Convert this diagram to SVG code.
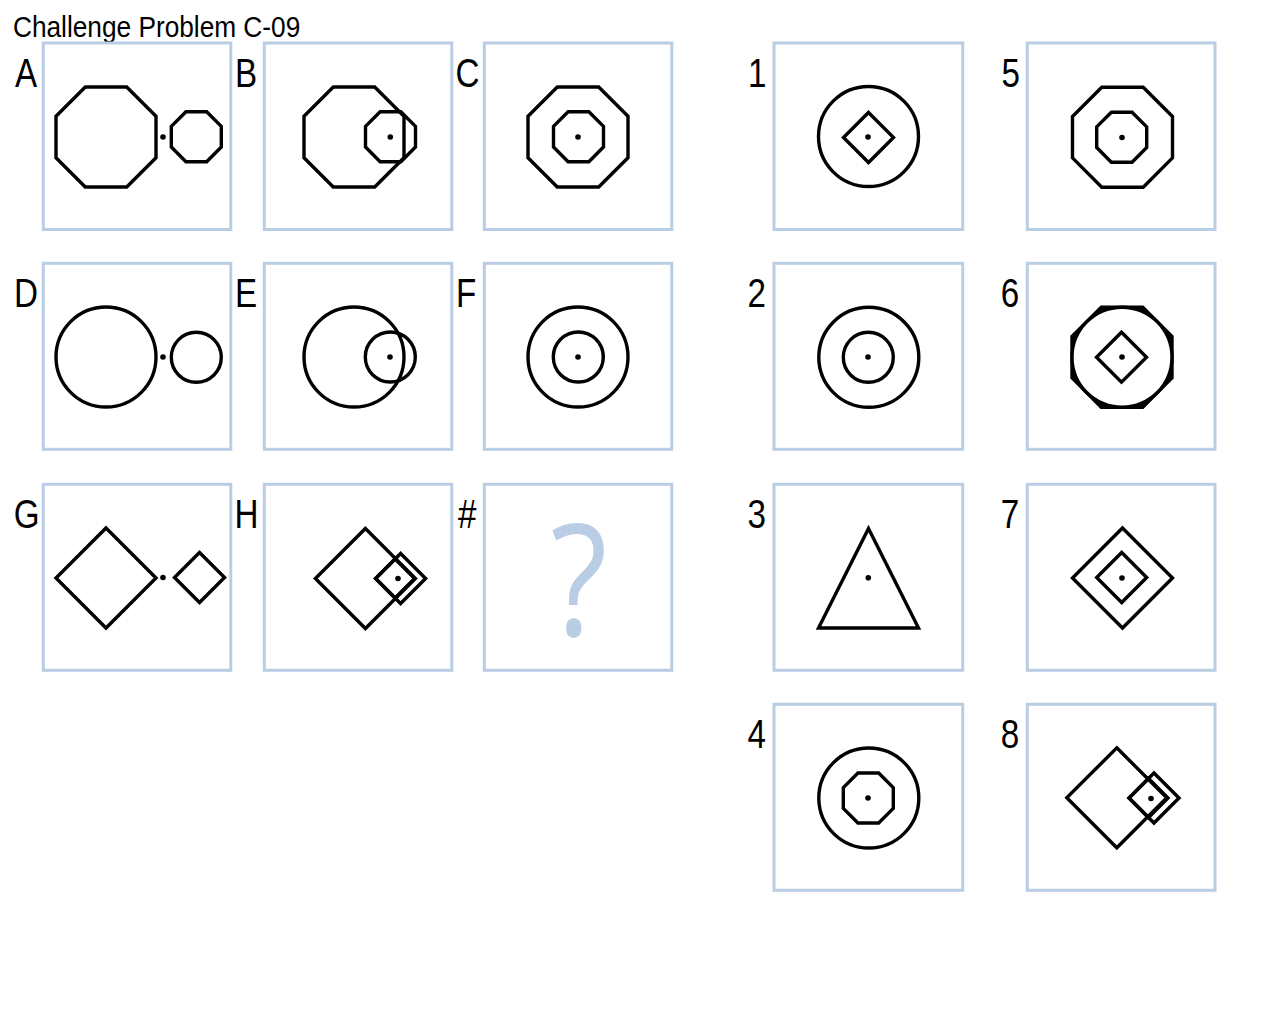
<svg xmlns="http://www.w3.org/2000/svg" width="1280" height="1024" viewBox="0 0 1280 1024">
<style>
.bg{fill:#fff}
.box{fill:#fff;stroke:#b9cde4;stroke-width:3}
.s{fill:none;stroke:#000;stroke-width:3.4;stroke-linejoin:miter}
.sf{fill:#000;stroke:#000;stroke-width:3.4;stroke-linejoin:miter}
.sw{fill:#fff;stroke:#000;stroke-width:3.4}
.d{fill:#000}
.lbl{font-family:"Liberation Sans",Arial,sans-serif;font-size:40px;fill:#000}
.ttl{font-family:"Liberation Sans",Arial,sans-serif;font-size:29px;fill:#000}
.q{font-family:"Open Sans","DejaVu Sans",sans-serif;font-size:155px;fill:#b9cde4}
</style>
<defs>
<polygon id="oct50" points="-20.71,-50 20.71,-50 50,-20.71 50,20.71 20.71,50 -20.71,50 -50,20.71 -50,-20.71"/>
<polygon id="oct25" points="-10.36,-25 10.36,-25 25,-10.36 25,10.36 10.36,25 -10.36,25 -25,10.36 -25,-10.36"/>
<polygon id="dia50" points="0,-50 50,0 0,50 -50,0"/>
<polygon id="dia25" points="0,-25 25,0 0,25 -25,0"/>
<polygon id="dia19" points="0,-19.5 19.5,0 0,19.5 -19.5,0"/>
</defs>
<rect class="bg" x="0" y="0" width="1280" height="1024"/>
<text class="ttl" transform="matrix(0.905 0 0 1 13 37)">Challenge Problem C-09</text>

<g id="panel-A">
<rect class="box" x="43.3" y="43" width="187.5" height="186.5"/>
<text class="lbl" transform="matrix(0.83 0 0 1 15 86.5)">A</text>
<use class="s" href="#oct50" x="106" y="137"/>
<use class="s" href="#oct25" x="196.3" y="136.7"/>
<circle class="d" cx="163" cy="137" r="2.8"/>
</g>
<g id="panel-B">
<rect class="box" x="264.3" y="43" width="187.5" height="186.5"/>
<text class="lbl" transform="matrix(0.83 0 0 1 235 86.5)">B</text>
<use class="s" href="#oct50" x="354" y="137"/>
<use class="s" href="#oct25" x="390.5" y="136.7"/>
<circle class="d" cx="390.3" cy="137" r="2.8"/>
</g>
<g id="panel-C">
<rect class="box" x="484.3" y="43" width="187.5" height="186.5"/>
<text class="lbl" transform="matrix(0.83 0 0 1 455.5 86.5)">C</text>
<use class="s" href="#oct50" x="578" y="137"/>
<use class="s" href="#oct25" x="578.5" y="136.7"/>
<circle class="d" cx="578" cy="137" r="2.8"/>
</g>

<g id="panel-D">
<rect class="box" x="43.3" y="263.3" width="187.5" height="186"/>
<text class="lbl" transform="matrix(0.83 0 0 1 14 306.5)">D</text>
<circle class="s" cx="106" cy="357" r="50"/>
<circle class="s" cx="196.3" cy="357.3" r="25"/>
<circle class="d" cx="163" cy="357" r="2.8"/>
</g>
<g id="panel-E">
<rect class="box" x="264.3" y="263.3" width="187.5" height="186"/>
<text class="lbl" transform="matrix(0.83 0 0 1 235 306.5)">E</text>
<circle class="s" cx="354" cy="357" r="50"/>
<circle class="s" cx="390.3" cy="357" r="25"/>
<circle class="d" cx="390" cy="357" r="2.8"/>
</g>
<g id="panel-F">
<rect class="box" x="484.3" y="263.3" width="187.5" height="186"/>
<text class="lbl" transform="matrix(0.83 0 0 1 456 306.5)">F</text>
<circle class="s" cx="578" cy="357" r="50"/>
<circle class="s" cx="578.3" cy="357" r="25"/>
<circle class="d" cx="578" cy="357" r="2.8"/>
</g>

<g id="panel-G">
<rect class="box" x="43.3" y="484.3" width="187.5" height="186"/>
<text class="lbl" transform="matrix(0.83 0 0 1 13.8 527.5)">G</text>
<use class="s" href="#dia50" x="106" y="578"/>
<use class="s" href="#dia25" x="199.5" y="577.5"/>
<circle class="d" cx="163" cy="577.5" r="2.8"/>
</g>
<g id="panel-H">
<rect class="box" x="264.3" y="484.3" width="187.5" height="186"/>
<text class="lbl" transform="matrix(0.83 0 0 1 234.5 527.5)">H</text>
<use class="s" href="#dia50" x="365.4" y="578.5"/>
<use class="s" href="#dia25" x="400.6" y="578.5"/>
<use class="s" href="#dia19" x="395.1" y="578.5"/>
<circle class="d" cx="398" cy="578.5" r="2.8"/>
</g>
<g id="panel-question">
<rect class="box" x="484.3" y="484.3" width="187.5" height="186"/>
<text class="lbl" transform="matrix(0.83 0 0 1 458 527.5)">#</text>
<text class="q" transform="matrix(0.85 0 0 1 579 636)" x="0" y="0" text-anchor="middle">?</text>
</g>

<g id="option-1">
<rect class="box" x="774" y="43" width="188.7" height="186.5"/>
<text class="lbl" transform="matrix(0.83 0 0 1 748 86.5)">1</text>
<circle class="s" cx="868.5" cy="136.5" r="50"/>
<use class="s" href="#dia25" x="868.5" y="137.5"/>
<circle class="d" cx="868" cy="137" r="2.8"/>
</g>
<g id="option-2">
<rect class="box" x="774" y="263.3" width="188.7" height="186"/>
<text class="lbl" transform="matrix(0.83 0 0 1 747.5 306.5)">2</text>
<circle class="s" cx="868.8" cy="357.3" r="50"/>
<circle class="s" cx="868.3" cy="357.3" r="25"/>
<circle class="d" cx="868" cy="357" r="2.8"/>
</g>
<g id="option-3">
<rect class="box" x="774" y="484.3" width="188.7" height="186"/>
<text class="lbl" transform="matrix(0.83 0 0 1 747.5 527.5)">3</text>
<polygon class="s" points="868.5,528.5 818.5,628 918.5,628"/>
<circle class="d" cx="868.3" cy="577.7" r="2.8"/>
</g>
<g id="option-4">
<rect class="box" x="774" y="704.3" width="188.7" height="186"/>
<text class="lbl" transform="matrix(0.83 0 0 1 747.5 747.5)">4</text>
<circle class="s" cx="868.8" cy="798" r="50"/>
<use class="s" href="#oct25" x="868.3" y="798"/>
<circle class="d" cx="868" cy="798" r="2.8"/>
</g>

<g id="option-5">
<rect class="box" x="1027.3" y="43" width="187.7" height="186.5"/>
<text class="lbl" transform="matrix(0.83 0 0 1 1001.5 86.5)">5</text>
<use class="s" href="#oct50" x="1122.5" y="137.2"/>
<use class="s" href="#oct25" x="1121.7" y="137.2"/>
<circle class="d" cx="1122" cy="137.5" r="2.8"/>
</g>
<g id="option-6">
<rect class="box" x="1027.3" y="263.3" width="187.7" height="186"/>
<text class="lbl" transform="matrix(0.83 0 0 1 1000.8 306.5)">6</text>
<use class="sf" href="#oct50" x="1122" y="357.2"/>
<circle class="sw" cx="1122" cy="357.2" r="50"/>
<use class="s" href="#dia25" x="1121.5" y="357.2"/>
<circle class="d" cx="1122" cy="357" r="2.8"/>
</g>
<g id="option-7">
<rect class="box" x="1027.3" y="484.3" width="187.7" height="186"/>
<text class="lbl" transform="matrix(0.83 0 0 1 1000.8 527.5)">7</text>
<use class="s" href="#dia50" x="1122.5" y="578"/>
<use class="s" href="#dia25" x="1121.7" y="577.5"/>
<circle class="d" cx="1122" cy="578" r="2.8"/>
</g>
<g id="option-8">
<rect class="box" x="1027.3" y="704.3" width="187.7" height="186"/>
<text class="lbl" transform="matrix(0.83 0 0 1 1000.8 747.5)">8</text>
<use class="s" href="#dia50" x="1116.8" y="797.8"/>
<use class="s" href="#dia25" x="1154" y="798"/>
<use class="s" href="#dia19" x="1148.5" y="798"/>
<circle class="d" cx="1151" cy="798.5" r="2.8"/>
</g>
<g id="connectors"/>
</svg>
